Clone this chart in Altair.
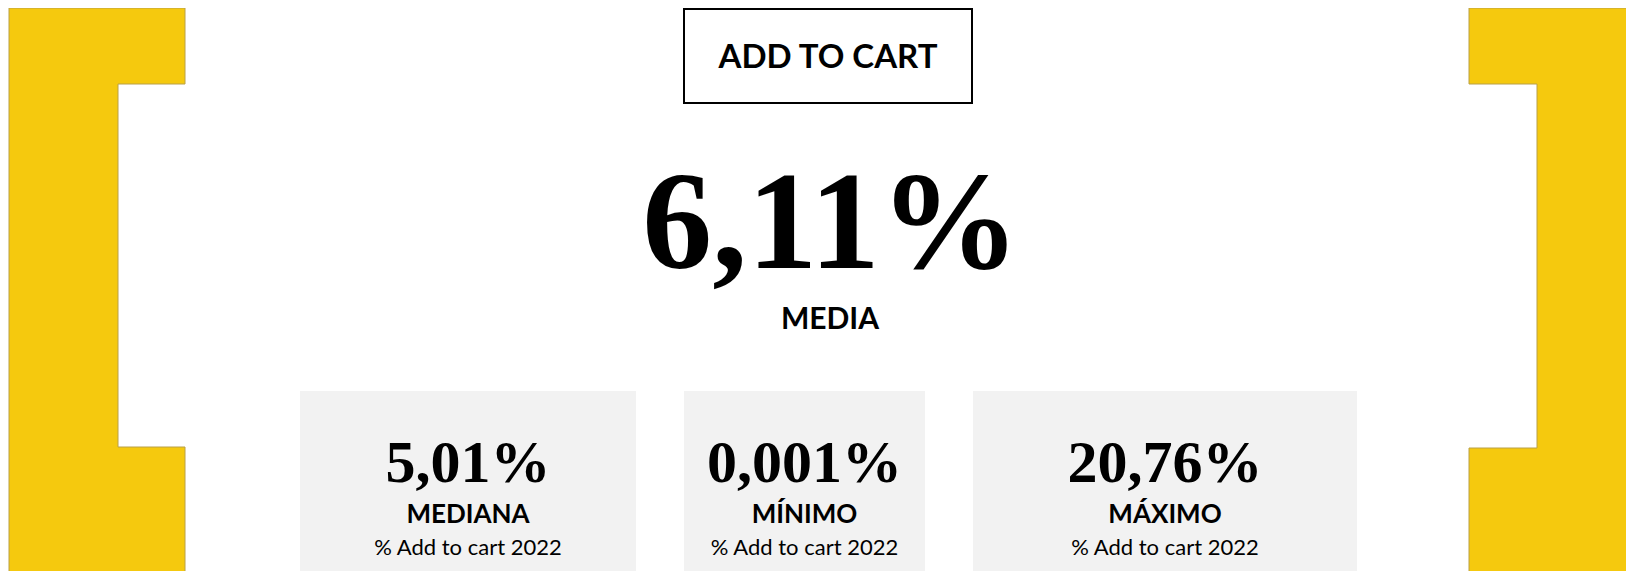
import altair as alt
import pandas as pd

# ---- content (values / labels) ----
header_label = ["ADD TO CART"]
main_value = ["6,11%"]
main_label = ["MEDIA"]
stat_values = ["5,01%", "0,001%", "20,76%"]
stat_labels = ["MEDIANA", "MÍNIMO", "MÁXIMO"]
stat_caption = ["% Add to cart 2022", "% Add to cart 2022", "% Add to cart 2022"]

# ---- layout (page pixel coordinates) ----
W, H = 1634, 579
M = 8
box_x1 = [300, 684, 973]
box_x2 = [636, 925, 1357]
box_y1, box_y2 = 391, 579
header_box = dict(x1=684, x2=972, y1=9, y2=103)
bracket_rects = [
    (9, 118, 8, 579), (118, 185, 8, 84), (118, 185, 447, 579),
    (1537, 1634, 8, 579), (1469, 1537, 8, 84), (1469, 1537, 448, 579),
]
left_outline = [(9, 579), (9, 8), (185, 8), (185, 84), (118, 84), (118, 447), (185, 447), (185, 579)]
right_outline = [(1469, 579), (1469, 448), (1537, 448), (1537, 84), (1469, 84), (1469, 8), (1634, 8)]

YELLOW = "#F5C90E"
GRAY = "#F2F2F2"
SANS = "Lato"
SERIF = "Liberation Serif"

xs = alt.Scale(domain=[M, W - M], nice=False, zero=False)
ys = alt.Scale(domain=[M, H - M], nice=False, zero=False, reverse=True)


def X(f):
    return alt.X(f, type="quantitative", scale=xs, axis=None)


def Y(f):
    return alt.Y(f, type="quantitative", scale=ys, axis=None)


# brackets
br = pd.DataFrame(bracket_rects, columns=["x1", "x2", "y1", "y2"])
brackets = alt.Chart(br).mark_rect(color=YELLOW, clip=True).encode(
    x=X("x1"), x2="x2", y=Y("y1"), y2="y2"
)

ol = []
for name, pts in (("L", left_outline), ("R", right_outline)):
    for i, (px, py) in enumerate(pts):
        ol.append(dict(g=name, o=i, x=px, y=py))
outline = alt.Chart(pd.DataFrame(ol)).mark_line(
    color="#B9A046", strokeWidth=1, clip=True
).encode(x=X("x"), y=Y("y"), detail="g:N", order="o:Q")

# header box
hb = pd.DataFrame([header_box])
hbox = alt.Chart(hb).mark_rect(fill="white", stroke="black", strokeWidth=2).encode(
    x=X("x1"), x2="x2", y=Y("y1"), y2="y2"
)
htxt = alt.Chart(pd.DataFrame({"t": header_label, "x": [828], "y": [68]})).mark_text(
    font=SANS, fontSize=33, fontWeight="bold", color="black", baseline="alphabetic", align="center"
).encode(x=X("x"), y=Y("y"), text="t:N")

# main figure
mval = alt.Chart(pd.DataFrame({"t": main_value, "x": [831], "y": [268]})).mark_text(
    font=SERIF, fontSize=140, fontWeight="bold", color="black", baseline="alphabetic", align="center"
).encode(x=X("x"), y=Y("y"), text="t:N")
mlab = alt.Chart(pd.DataFrame({"t": main_label, "x": [830], "y": [329]})).mark_text(
    font=SANS, fontSize=30, fontWeight="bold", color="black", baseline="alphabetic", align="center"
).encode(x=X("x"), y=Y("y"), text="t:N")

# stat boxes
sd = pd.DataFrame({
    "x1": box_x1, "x2": box_x2,
    "y1": [box_y1] * 3, "y2": [box_y2] * 3,
    "v": stat_values, "l": stat_labels, "c": stat_caption,
})
sd["xc"] = (sd["x1"] + sd["x2"]) / 2
sd["yv"] = 482
sd["yl"] = 523
sd["yc"] = 555

boxes = alt.Chart(sd).mark_rect(color=GRAY, clip=True).encode(
    x=X("x1"), x2="x2", y=Y("y1"), y2="y2"
)
svals = alt.Chart(sd).mark_text(
    font=SERIF, fontSize=60, fontWeight="bold", color="black", baseline="alphabetic", align="center"
).encode(x=X("xc"), y=Y("yv"), text="v:N")
slabs = alt.Chart(sd).mark_text(
    font=SANS, fontSize=26, fontWeight="bold", color="black", baseline="alphabetic", align="center"
).encode(x=X("xc"), y=Y("yl"), text="l:N")
scaps = alt.Chart(sd).mark_text(
    font=SANS, fontSize=22, color="black", baseline="alphabetic", align="center"
).encode(x=X("xc"), y=Y("yc"), text="c:N")

chart = alt.layer(
    brackets, outline, hbox, htxt, mval, mlab, boxes, svals, slabs, scaps
).properties(
    width=W - 2 * M, height=H - 2 * M, padding=0,
    autosize=alt.AutoSizeParams(type="none"),
    background="white",
).configure_view(stroke=None)

chart.save("out.html", embed_options={"renderer": "svg", "actions": False})
